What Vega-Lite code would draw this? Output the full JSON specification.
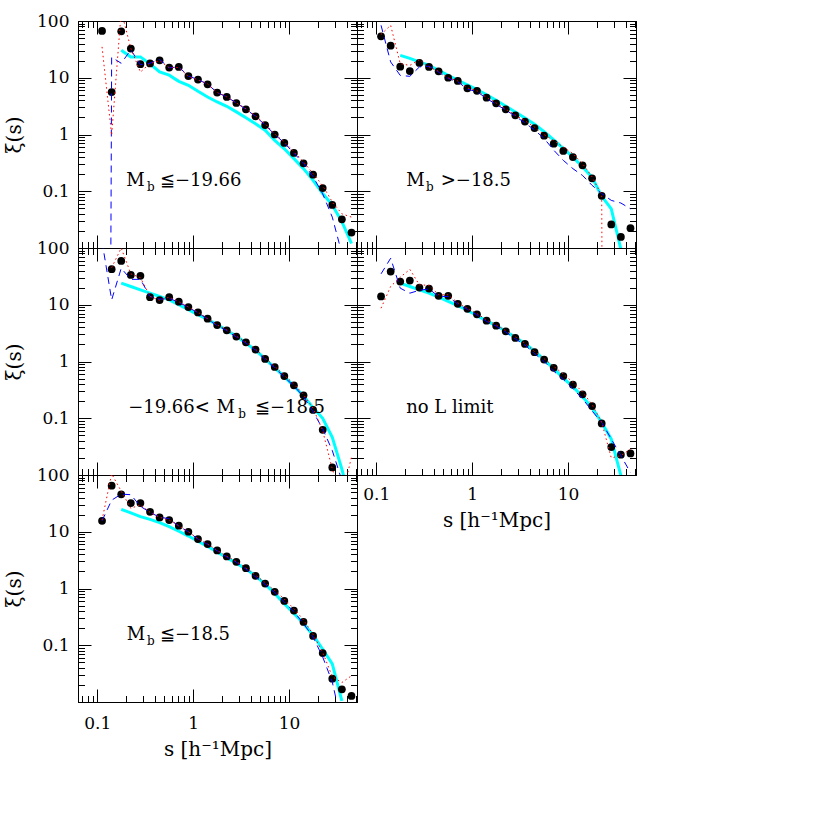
{
"$schema": "https://vega.github.io/schema/vega-lite/v6.json",
"background": "white",
"padding": {"left": 4, "top": 11, "right": 0, "bottom": 0},
"autosize": {"type": "pad"},
"datasets": {
"d": [
{"p":1,"s":0.1122,"pt":66.7,"r":35,"b":1e-40,"c":null},
{"p":1,"s":0.1413,"pt":5.6,"r":0.97,"b":23,"c":null},
{"p":1,"s":0.1778,"pt":65.8,"r":150,"b":18,"c":30.4},
{"p":1,"s":0.2239,"pt":32.6,"r":33,"b":31,"c":23.3},
{"p":1,"s":0.2818,"pt":17.3,"r":12.6,"b":17,"c":23.3},
{"p":1,"s":0.3548,"pt":17.9,"r":17.8,"b":18,"c":17.5},
{"p":1,"s":0.4467,"pt":20.3,"r":20,"b":21,"c":12.7},
{"p":1,"s":0.5623,"pt":15.1,"r":15,"b":15,"c":11.1},
{"p":1,"s":0.7079,"pt":15.5,"r":15.2,"b":15.5,"c":8.65},
{"p":1,"s":0.8913,"pt":10.7,"r":10.5,"b":10.7,"c":7.36},
{"p":1,"s":1.122,"pt":9.3,"r":9.2,"b":9.3,"c":5.77},
{"p":1,"s":1.413,"pt":7.66,"r":7.8,"b":7.7,"c":4.58},
{"p":1,"s":1.778,"pt":5.47,"r":5.5,"b":5.5,"c":3.74},
{"p":1,"s":2.239,"pt":4.59,"r":4.6,"b":4.6,"c":3.14},
{"p":1,"s":2.818,"pt":3.59,"r":3.6,"b":3.6,"c":2.5},
{"p":1,"s":3.548,"pt":2.78,"r":2.85,"b":2.78,"c":1.98},
{"p":1,"s":4.467,"pt":2.09,"r":2.12,"b":2.09,"c":1.55},
{"p":1,"s":5.623,"pt":1.47,"r":1.55,"b":1.47,"c":1.19},
{"p":1,"s":7.079,"pt":1.0,"r":1.02,"b":1.0,"c":0.79},
{"p":1,"s":8.913,"pt":0.71,"r":0.74,"b":0.71,"c":0.56},
{"p":1,"s":11.22,"pt":0.473,"r":0.5,"b":0.47,"c":0.376},
{"p":1,"s":14.13,"pt":0.311,"r":0.33,"b":0.31,"c":0.25},
{"p":1,"s":17.78,"pt":0.196,"r":0.205,"b":0.18,"c":0.156},
{"p":1,"s":22.39,"pt":0.114,"r":0.125,"b":0.09,"c":0.091},
{"p":1,"s":28.18,"pt":0.0574,"r":0.065,"b":0.035,"c":0.057},
{"p":1,"s":35.48,"pt":0.032,"r":0.04,"b":0.008,"c":0.029},
{"p":1,"s":44.67,"pt":0.0187,"r":0.035,"b":null,"c":0.012},
{"p":2,"s":0.1122,"pt":53.7,"r":58,"b":84,"c":null},
{"p":2,"s":0.1413,"pt":36.7,"r":84,"b":19,"c":null},
{"p":2,"s":0.1778,"pt":15.7,"r":17.7,"b":11,"c":24.8},
{"p":2,"s":0.2239,"pt":13.1,"r":16.5,"b":10.6,"c":22},
{"p":2,"s":0.2818,"pt":18.2,"r":20.8,"b":15.5,"c":19},
{"p":2,"s":0.3548,"pt":15.5,"r":15.5,"b":16,"c":16.5},
{"p":2,"s":0.4467,"pt":13,"r":13,"b":12.6,"c":13.5},
{"p":2,"s":0.5623,"pt":10,"r":10,"b":9.7,"c":11},
{"p":2,"s":0.7079,"pt":8.8,"r":8.8,"b":8.5,"c":9.0},
{"p":2,"s":0.8913,"pt":6.5,"r":6.6,"b":6.3,"c":7.5},
{"p":2,"s":1.122,"pt":5.9,"r":5.9,"b":5.7,"c":6.2},
{"p":2,"s":1.413,"pt":4.46,"r":4.5,"b":4.3,"c":5.0},
{"p":2,"s":1.778,"pt":3.55,"r":3.6,"b":3.4,"c":4.0},
{"p":2,"s":2.239,"pt":2.78,"r":2.8,"b":2.7,"c":3.15},
{"p":2,"s":2.818,"pt":2.18,"r":2.2,"b":2.1,"c":2.5},
{"p":2,"s":3.548,"pt":1.69,"r":1.75,"b":1.6,"c":1.95},
{"p":2,"s":4.467,"pt":1.3,"r":1.35,"b":1.2,"c":1.51},
{"p":2,"s":5.623,"pt":0.955,"r":1.0,"b":0.85,"c":1.12},
{"p":2,"s":7.079,"pt":0.69,"r":0.78,"b":0.53,"c":0.8},
{"p":2,"s":8.913,"pt":0.513,"r":0.6,"b":0.35,"c":0.57},
{"p":2,"s":11.22,"pt":0.40,"r":0.46,"b":0.25,"c":0.40},
{"p":2,"s":14.13,"pt":0.286,"r":0.307,"b":0.19,"c":0.27},
{"p":2,"s":17.78,"pt":0.169,"r":0.179,"b":0.127,"c":0.175},
{"p":2,"s":22.39,"pt":0.083,"r":0.085,"b":0.091,"c":0.082},
{"p":2,"s":28.18,"pt":0.026,"r":1e-40,"b":0.069,"c":0.049},
{"p":2,"s":35.48,"pt":0.0157,"r":null,"b":0.062,"c":0.0095},
{"p":2,"s":44.67,"pt":0.0223,"r":null,"b":0.049,"c":null},
{"p":3,"s":0.1122,"pt":null,"r":null,"b":130,"c":null},
{"p":3,"s":0.1413,"pt":42.3,"r":45,"b":12.2,"c":null},
{"p":3,"s":0.1778,"pt":59.2,"r":100,"b":44,"c":24},
{"p":3,"s":0.2239,"pt":33.6,"r":35,"b":28,"c":21},
{"p":3,"s":0.2818,"pt":32.3,"r":30,"b":28,"c":18.3},
{"p":3,"s":0.3548,"pt":13.6,"r":14,"b":14,"c":16},
{"p":3,"s":0.4467,"pt":12.1,"r":12,"b":12.5,"c":14},
{"p":3,"s":0.5623,"pt":13.6,"r":13.6,"b":13,"c":12.2},
{"p":3,"s":0.7079,"pt":11.3,"r":11.3,"b":11,"c":10},
{"p":3,"s":0.8913,"pt":9.1,"r":9.1,"b":9,"c":8.2},
{"p":3,"s":1.122,"pt":7.33,"r":7.4,"b":7.2,"c":6.7},
{"p":3,"s":1.413,"pt":5.68,"r":5.7,"b":5.6,"c":5.5},
{"p":3,"s":1.778,"pt":4.39,"r":4.4,"b":4.3,"c":4.46},
{"p":3,"s":2.239,"pt":3.55,"r":3.6,"b":3.5,"c":3.55},
{"p":3,"s":2.818,"pt":2.75,"r":2.8,"b":2.7,"c":2.78},
{"p":3,"s":3.548,"pt":2.18,"r":2.2,"b":2.1,"c":2.12},
{"p":3,"s":4.467,"pt":1.62,"r":1.65,"b":1.58,"c":1.58},
{"p":3,"s":5.623,"pt":1.11,"r":1.15,"b":1.08,"c":1.11},
{"p":3,"s":7.079,"pt":0.80,"r":0.82,"b":0.78,"c":0.77},
{"p":3,"s":8.913,"pt":0.553,"r":0.57,"b":0.53,"c":0.54},
{"p":3,"s":11.22,"pt":0.38,"r":0.4,"b":0.37,"c":0.369},
{"p":3,"s":14.13,"pt":0.254,"r":0.26,"b":0.24,"c":0.246},
{"p":3,"s":17.78,"pt":0.14,"r":0.15,"b":0.13,"c":0.154},
{"p":3,"s":22.39,"pt":0.0624,"r":0.06,"b":0.065,"c":0.1},
{"p":3,"s":28.18,"pt":0.0136,"r":0.0127,"b":0.027,"c":0.046},
{"p":3,"s":35.48,"pt":null,"r":0.004,"b":0.008,"c":0.0127},
{"p":3,"s":44.67,"pt":null,"r":0.0207,"b":null,"c":0.0027},
{"p":4,"s":0.1122,"pt":14,"r":8.7,"b":35,"c":null},
{"p":4,"s":0.1413,"pt":38.5,"r":21,"b":66,"c":null},
{"p":4,"s":0.1778,"pt":25.6,"r":30.5,"b":19.6,"c":24},
{"p":4,"s":0.2239,"pt":26.7,"r":42,"b":16,"c":21},
{"p":4,"s":0.2818,"pt":20.1,"r":22.4,"b":18,"c":18.3},
{"p":4,"s":0.3548,"pt":19.3,"r":22,"b":19,"c":16},
{"p":4,"s":0.4467,"pt":14.4,"r":15,"b":14,"c":13.6},
{"p":4,"s":0.5623,"pt":14.4,"r":15,"b":14,"c":11.5},
{"p":4,"s":0.7079,"pt":10.4,"r":10.8,"b":10.2,"c":9.6},
{"p":4,"s":0.8913,"pt":8.5,"r":8.7,"b":8.3,"c":8},
{"p":4,"s":1.122,"pt":6.77,"r":7,"b":6.6,"c":6.4},
{"p":4,"s":1.413,"pt":5.24,"r":5.4,"b":5.1,"c":5.2},
{"p":4,"s":1.778,"pt":4.28,"r":4.4,"b":4.2,"c":4.3},
{"p":4,"s":2.239,"pt":3.41,"r":3.5,"b":3.3,"c":3.4},
{"p":4,"s":2.818,"pt":2.6,"r":2.7,"b":2.5,"c":2.66},
{"p":4,"s":3.548,"pt":2.04,"r":2.1,"b":1.95,"c":2.07},
{"p":4,"s":4.467,"pt":1.46,"r":1.5,"b":1.38,"c":1.52},
{"p":4,"s":5.623,"pt":1.08,"r":1.12,"b":1.0,"c":1.08},
{"p":4,"s":7.079,"pt":0.774,"r":0.82,"b":0.676,"c":0.75},
{"p":4,"s":8.913,"pt":0.553,"r":0.6,"b":0.483,"c":0.51},
{"p":4,"s":11.22,"pt":0.39,"r":0.43,"b":0.331,"c":0.36},
{"p":4,"s":14.13,"pt":0.264,"r":0.29,"b":0.221,"c":0.24},
{"p":4,"s":17.78,"pt":0.164,"r":0.175,"b":0.134,"c":0.154},
{"p":4,"s":22.39,"pt":0.081,"r":0.085,"b":0.084,"c":0.084},
{"p":4,"s":28.18,"pt":0.031,"r":0.02,"b":0.043,"c":0.043},
{"p":4,"s":35.48,"pt":0.0228,"r":0.022,"b":0.022,"c":0.0098},
{"p":4,"s":44.67,"pt":0.024,"r":0.0286,"b":0.011,"c":null},
{"p":5,"s":0.1122,"pt":15.6,"r":16,"b":15.6,"c":null},
{"p":5,"s":0.1413,"pt":64.9,"r":105,"b":36,"c":null},
{"p":5,"s":0.1778,"pt":45.6,"r":52,"b":46,"c":24.8},
{"p":5,"s":0.2239,"pt":32,"r":25.8,"b":45,"c":21.5},
{"p":5,"s":0.2818,"pt":32,"r":30,"b":28,"c":18.5},
{"p":5,"s":0.3548,"pt":22.5,"r":22,"b":22,"c":16.5},
{"p":5,"s":0.4467,"pt":17.9,"r":18,"b":18,"c":14.5},
{"p":5,"s":0.5623,"pt":16.1,"r":16,"b":17,"c":12.3},
{"p":5,"s":0.7079,"pt":12.8,"r":12.8,"b":12.5,"c":10.2},
{"p":5,"s":0.8913,"pt":10,"r":10,"b":10,"c":8.4},
{"p":5,"s":1.122,"pt":7.42,"r":7.5,"b":7.4,"c":6.8},
{"p":5,"s":1.413,"pt":6.06,"r":6.1,"b":6,"c":5.5},
{"p":5,"s":1.778,"pt":4.69,"r":4.7,"b":4.6,"c":4.4},
{"p":5,"s":2.239,"pt":3.67,"r":3.7,"b":3.6,"c":3.5},
{"p":5,"s":2.818,"pt":2.96,"r":3.0,"b":2.9,"c":2.8},
{"p":5,"s":3.548,"pt":2.28,"r":2.3,"b":2.2,"c":2.2},
{"p":5,"s":4.467,"pt":1.67,"r":1.72,"b":1.6,"c":1.67},
{"p":5,"s":5.623,"pt":1.22,"r":1.27,"b":1.18,"c":1.19},
{"p":5,"s":7.079,"pt":0.873,"r":0.92,"b":0.85,"c":0.82},
{"p":5,"s":8.913,"pt":0.605,"r":0.65,"b":0.58,"c":0.54},
{"p":5,"s":11.22,"pt":0.409,"r":0.44,"b":0.39,"c":0.362},
{"p":5,"s":14.13,"pt":0.258,"r":0.28,"b":0.24,"c":0.241},
{"p":5,"s":17.78,"pt":0.146,"r":0.155,"b":0.14,"c":0.15},
{"p":5,"s":22.39,"pt":0.073,"r":0.075,"b":0.062,"c":0.085},
{"p":5,"s":28.18,"pt":0.0258,"r":0.028,"b":0.0225,"c":0.047},
{"p":5,"s":35.48,"pt":0.0167,"r":0.022,"b":0.004,"c":0.0105},
{"p":5,"s":44.67,"pt":0.0128,"r":0.029,"b":null,"c":null}
],
"t": [
{"p":1,"x":0.2,"y":0.125,"t":"M"},
{"p":1,"x":0.45,"y":0.125,"t":"≦−19.66"},
{"p":2,"x":0.205,"y":0.125,"t":"M"},
{"p":2,"x":0.47,"y":0.125,"t":">−18.5"},
{"p":3,"x":0.21,"y":0.125,"t":"−19.66<"},
{"p":3,"x":1.75,"y":0.125,"t":"M"},
{"p":3,"x":4.4,"y":0.125,"t":"≦−18.5"},
{"p":4,"x":0.205,"y":0.125,"t":"no L limit"},
{"p":5,"x":0.2024,"y":0.125,"t":"M"},
{"p":5,"x":0.45,"y":0.125,"t":"≦−18.5"}
],
"u": [
{"p":1,"x":0.33,"y":0.102,"t":"b"},
{"p":2,"x":0.33,"y":0.102,"t":"b"},
{"p":3,"x":2.95,"y":0.102,"t":"b"},
{"p":5,"x":0.33,"y":0.102,"t":"b"}
]
},
"spacing": 0,
"bounds": "flush",
"columns": 2,
"concat": [
{"width": 279, "height": 227, "resolve": {"axis": {"x": "independent", "y": "independent"}},
 "layer": [
  {"data": {"name": "d"}, "transform": [{"filter": "datum.p == 1"}], "mark": {"type": "line", "clip": true, "color": "#00ffff", "strokeWidth": 3},
   "encoding": {"x": {"field": "s", "type": "quantitative", "scale": {"type": "log", "domain": [0.063, 51], "nice": false}, "axis": null}, "y": {"field": "c", "type": "quantitative", "scale": {"type": "log", "domain": [0.01, 100], "nice": false}, "axis": null}}},
  {"data": {"name": "d"}, "transform": [{"filter": "datum.p == 1"}], "mark": {"type": "circle", "clip": true, "color": "black", "size": 60, "opacity": 1},
   "encoding": {"x": {"field": "s", "type": "quantitative", "scale": {"type": "log", "domain": [0.063, 51], "nice": false},
     "axis": {"orient": "bottom", "values": [0.07,0.08,0.09,0.1,0.2,0.3,0.4,0.5,0.6,0.7,0.8,0.9,1,2,3,4,5,6,7,8,9,10,20,30,40,50], "tickSize": {"condition": {"test": "abs(log(datum.value)/LN10 - round(log(datum.value)/LN10)) < 0.001", "value": -13}, "value": -6.5}, "labels": false, "title": null}},
    "y": {"field": "pt", "type": "quantitative", "scale": {"type": "log", "domain": [0.01, 100], "nice": false},
     "axis": {"orient": "left", "values": [0.01,0.02,0.03,0.04,0.05,0.06,0.07,0.08,0.09,0.1,0.2,0.3,0.4,0.5,0.6,0.7,0.8,0.9,1,2,3,4,5,6,7,8,9,10,20,30,40,50,60,70,80,90,100], "tickSize": {"condition": {"test": "abs(log(datum.value)/LN10 - round(log(datum.value)/LN10)) < 0.001", "value": -13}, "value": -6.5}, "labelExpr": "datum.value == 100 ? '100' : datum.value == 10 ? '10' : datum.value == 1 ? '1' : datum.value == 0.1 ? '0.1' : ''", "labelPadding": 22, "title": "ξ(s)", "titlePadding": 12}}}},
  {"data": {"name": "d"}, "transform": [{"filter": "datum.p == 1"}], "mark": {"type": "line", "clip": true, "color": "#0000ff", "strokeWidth": 1, "strokeDash": [7, 5]},
   "encoding": {"x": {"field": "s", "type": "quantitative", "scale": {"type": "log", "domain": [0.063, 51], "nice": false}, "axis": null}, "y": {"field": "b", "type": "quantitative", "scale": {"type": "log", "domain": [0.01, 100], "nice": false}, "axis": null}}},
  {"data": {"name": "d"}, "transform": [{"filter": "datum.p == 1"}], "mark": {"type": "line", "clip": true, "color": "#ff0000", "strokeWidth": 1, "strokeDash": [1.5, 3]},
   "encoding": {"x": {"field": "s", "type": "quantitative", "scale": {"type": "log", "domain": [0.063, 51], "nice": false},
     "axis": {"orient": "top", "values": [0.07,0.08,0.09,0.1,0.2,0.3,0.4,0.5,0.6,0.7,0.8,0.9,1,2,3,4,5,6,7,8,9,10,20,30,40,50], "tickSize": {"condition": {"test": "abs(log(datum.value)/LN10 - round(log(datum.value)/LN10)) < 0.001", "value": -13}, "value": -6.5}, "labels": false, "title": null}},
    "y": {"field": "r", "type": "quantitative", "scale": {"type": "log", "domain": [0.01, 100], "nice": false},
     "axis": {"orient": "right", "values": [0.01,0.02,0.03,0.04,0.05,0.06,0.07,0.08,0.09,0.1,0.2,0.3,0.4,0.5,0.6,0.7,0.8,0.9,1,2,3,4,5,6,7,8,9,10,20,30,40,50,60,70,80,90,100], "tickSize": {"condition": {"test": "abs(log(datum.value)/LN10 - round(log(datum.value)/LN10)) < 0.001", "value": -13}, "value": -6.5}, "labels": false, "title": null}}}},
  {"data": {"name": "t"}, "transform": [{"filter": "datum.p == 1"}], "mark": {"type": "text", "align": "left", "baseline": "alphabetic", "fontSize": 18, "font": "DejaVu Serif", "color": "black"},
   "encoding": {"x": {"field": "x", "type": "quantitative", "scale": {"type": "log", "domain": [0.063, 51], "nice": false}, "axis": null}, "y": {"field": "y", "type": "quantitative", "scale": {"type": "log", "domain": [0.01, 100], "nice": false}, "axis": null}, "text": {"field": "t"}}},
  {"data": {"name": "u"}, "transform": [{"filter": "datum.p == 1"}], "mark": {"type": "text", "align": "left", "baseline": "alphabetic", "fontSize": 12, "font": "DejaVu Serif", "color": "black"},
   "encoding": {"x": {"field": "x", "type": "quantitative", "scale": {"type": "log", "domain": [0.063, 51], "nice": false}, "axis": null}, "y": {"field": "y", "type": "quantitative", "scale": {"type": "log", "domain": [0.01, 100], "nice": false}, "axis": null}, "text": {"field": "t"}}}
 ]},
{"width": 279, "height": 227, "resolve": {"axis": {"x": "independent", "y": "independent"}},
 "layer": [
  {"data": {"name": "d"}, "transform": [{"filter": "datum.p == 2"}], "mark": {"type": "line", "clip": true, "color": "#00ffff", "strokeWidth": 3},
   "encoding": {"x": {"field": "s", "type": "quantitative", "scale": {"type": "log", "domain": [0.063, 51], "nice": false}, "axis": null}, "y": {"field": "c", "type": "quantitative", "scale": {"type": "log", "domain": [0.01, 100], "nice": false}, "axis": null}}},
  {"data": {"name": "d"}, "transform": [{"filter": "datum.p == 2"}], "mark": {"type": "circle", "clip": true, "color": "black", "size": 60, "opacity": 1},
   "encoding": {"x": {"field": "s", "type": "quantitative", "scale": {"type": "log", "domain": [0.063, 51], "nice": false},
     "axis": {"orient": "bottom", "values": [0.07,0.08,0.09,0.1,0.2,0.3,0.4,0.5,0.6,0.7,0.8,0.9,1,2,3,4,5,6,7,8,9,10,20,30,40,50], "tickSize": {"condition": {"test": "abs(log(datum.value)/LN10 - round(log(datum.value)/LN10)) < 0.001", "value": -13}, "value": -6.5}, "labels": false, "title": null}},
    "y": {"field": "pt", "type": "quantitative", "scale": {"type": "log", "domain": [0.01, 100], "nice": false},
     "axis": {"orient": "left", "values": [0.01,0.02,0.03,0.04,0.05,0.06,0.07,0.08,0.09,0.1,0.2,0.3,0.4,0.5,0.6,0.7,0.8,0.9,1,2,3,4,5,6,7,8,9,10,20,30,40,50,60,70,80,90,100], "tickSize": {"condition": {"test": "abs(log(datum.value)/LN10 - round(log(datum.value)/LN10)) < 0.001", "value": -13}, "value": -6.5}, "labels": false, "title": null}}}},
  {"data": {"name": "d"}, "transform": [{"filter": "datum.p == 2"}], "mark": {"type": "line", "clip": true, "color": "#0000ff", "strokeWidth": 1, "strokeDash": [7, 5]},
   "encoding": {"x": {"field": "s", "type": "quantitative", "scale": {"type": "log", "domain": [0.063, 51], "nice": false}, "axis": null}, "y": {"field": "b", "type": "quantitative", "scale": {"type": "log", "domain": [0.01, 100], "nice": false}, "axis": null}}},
  {"data": {"name": "d"}, "transform": [{"filter": "datum.p == 2"}], "mark": {"type": "line", "clip": true, "color": "#ff0000", "strokeWidth": 1, "strokeDash": [1.5, 3]},
   "encoding": {"x": {"field": "s", "type": "quantitative", "scale": {"type": "log", "domain": [0.063, 51], "nice": false},
     "axis": {"orient": "top", "values": [0.07,0.08,0.09,0.1,0.2,0.3,0.4,0.5,0.6,0.7,0.8,0.9,1,2,3,4,5,6,7,8,9,10,20,30,40,50], "tickSize": {"condition": {"test": "abs(log(datum.value)/LN10 - round(log(datum.value)/LN10)) < 0.001", "value": -13}, "value": -6.5}, "labels": false, "title": null}},
    "y": {"field": "r", "type": "quantitative", "scale": {"type": "log", "domain": [0.01, 100], "nice": false},
     "axis": {"orient": "right", "values": [0.01,0.02,0.03,0.04,0.05,0.06,0.07,0.08,0.09,0.1,0.2,0.3,0.4,0.5,0.6,0.7,0.8,0.9,1,2,3,4,5,6,7,8,9,10,20,30,40,50,60,70,80,90,100], "tickSize": {"condition": {"test": "abs(log(datum.value)/LN10 - round(log(datum.value)/LN10)) < 0.001", "value": -13}, "value": -6.5}, "labels": false, "title": null}}}},
  {"data": {"name": "t"}, "transform": [{"filter": "datum.p == 2"}], "mark": {"type": "text", "align": "left", "baseline": "alphabetic", "fontSize": 18, "font": "DejaVu Serif", "color": "black"},
   "encoding": {"x": {"field": "x", "type": "quantitative", "scale": {"type": "log", "domain": [0.063, 51], "nice": false}, "axis": null}, "y": {"field": "y", "type": "quantitative", "scale": {"type": "log", "domain": [0.01, 100], "nice": false}, "axis": null}, "text": {"field": "t"}}},
  {"data": {"name": "u"}, "transform": [{"filter": "datum.p == 2"}], "mark": {"type": "text", "align": "left", "baseline": "alphabetic", "fontSize": 12, "font": "DejaVu Serif", "color": "black"},
   "encoding": {"x": {"field": "x", "type": "quantitative", "scale": {"type": "log", "domain": [0.063, 51], "nice": false}, "axis": null}, "y": {"field": "y", "type": "quantitative", "scale": {"type": "log", "domain": [0.01, 100], "nice": false}, "axis": null}, "text": {"field": "t"}}}
 ]},
{"width": 279, "height": 227, "resolve": {"axis": {"x": "independent", "y": "independent"}},
 "layer": [
  {"data": {"name": "d"}, "transform": [{"filter": "datum.p == 3"}], "mark": {"type": "line", "clip": true, "color": "#00ffff", "strokeWidth": 3},
   "encoding": {"x": {"field": "s", "type": "quantitative", "scale": {"type": "log", "domain": [0.063, 51], "nice": false}, "axis": null}, "y": {"field": "c", "type": "quantitative", "scale": {"type": "log", "domain": [0.01, 100], "nice": false}, "axis": null}}},
  {"data": {"name": "d"}, "transform": [{"filter": "datum.p == 3"}], "mark": {"type": "circle", "clip": true, "color": "black", "size": 60, "opacity": 1},
   "encoding": {"x": {"field": "s", "type": "quantitative", "scale": {"type": "log", "domain": [0.063, 51], "nice": false},
     "axis": {"orient": "bottom", "values": [0.07,0.08,0.09,0.1,0.2,0.3,0.4,0.5,0.6,0.7,0.8,0.9,1,2,3,4,5,6,7,8,9,10,20,30,40,50], "tickSize": {"condition": {"test": "abs(log(datum.value)/LN10 - round(log(datum.value)/LN10)) < 0.001", "value": -13}, "value": -6.5}, "labels": false, "title": null}},
    "y": {"field": "pt", "type": "quantitative", "scale": {"type": "log", "domain": [0.01, 100], "nice": false},
     "axis": {"orient": "left", "values": [0.01,0.02,0.03,0.04,0.05,0.06,0.07,0.08,0.09,0.1,0.2,0.3,0.4,0.5,0.6,0.7,0.8,0.9,1,2,3,4,5,6,7,8,9,10,20,30,40,50,60,70,80,90,100], "tickSize": {"condition": {"test": "abs(log(datum.value)/LN10 - round(log(datum.value)/LN10)) < 0.001", "value": -13}, "value": -6.5}, "labelExpr": "datum.value == 100 ? '100' : datum.value == 10 ? '10' : datum.value == 1 ? '1' : datum.value == 0.1 ? '0.1' : ''", "labelPadding": 22, "title": "ξ(s)", "titlePadding": 12}}}},
  {"data": {"name": "d"}, "transform": [{"filter": "datum.p == 3"}], "mark": {"type": "line", "clip": true, "color": "#0000ff", "strokeWidth": 1, "strokeDash": [7, 5]},
   "encoding": {"x": {"field": "s", "type": "quantitative", "scale": {"type": "log", "domain": [0.063, 51], "nice": false}, "axis": null}, "y": {"field": "b", "type": "quantitative", "scale": {"type": "log", "domain": [0.01, 100], "nice": false}, "axis": null}}},
  {"data": {"name": "d"}, "transform": [{"filter": "datum.p == 3"}], "mark": {"type": "line", "clip": true, "color": "#ff0000", "strokeWidth": 1, "strokeDash": [1.5, 3]},
   "encoding": {"x": {"field": "s", "type": "quantitative", "scale": {"type": "log", "domain": [0.063, 51], "nice": false},
     "axis": {"orient": "top", "values": [0.07,0.08,0.09,0.1,0.2,0.3,0.4,0.5,0.6,0.7,0.8,0.9,1,2,3,4,5,6,7,8,9,10,20,30,40,50], "tickSize": {"condition": {"test": "abs(log(datum.value)/LN10 - round(log(datum.value)/LN10)) < 0.001", "value": -13}, "value": -6.5}, "labels": false, "title": null}},
    "y": {"field": "r", "type": "quantitative", "scale": {"type": "log", "domain": [0.01, 100], "nice": false},
     "axis": {"orient": "right", "values": [0.01,0.02,0.03,0.04,0.05,0.06,0.07,0.08,0.09,0.1,0.2,0.3,0.4,0.5,0.6,0.7,0.8,0.9,1,2,3,4,5,6,7,8,9,10,20,30,40,50,60,70,80,90,100], "tickSize": {"condition": {"test": "abs(log(datum.value)/LN10 - round(log(datum.value)/LN10)) < 0.001", "value": -13}, "value": -6.5}, "labels": false, "title": null}}}},
  {"data": {"name": "t"}, "transform": [{"filter": "datum.p == 3"}], "mark": {"type": "text", "align": "left", "baseline": "alphabetic", "fontSize": 18, "font": "DejaVu Serif", "color": "black"},
   "encoding": {"x": {"field": "x", "type": "quantitative", "scale": {"type": "log", "domain": [0.063, 51], "nice": false}, "axis": null}, "y": {"field": "y", "type": "quantitative", "scale": {"type": "log", "domain": [0.01, 100], "nice": false}, "axis": null}, "text": {"field": "t"}}},
  {"data": {"name": "u"}, "transform": [{"filter": "datum.p == 3"}], "mark": {"type": "text", "align": "left", "baseline": "alphabetic", "fontSize": 12, "font": "DejaVu Serif", "color": "black"},
   "encoding": {"x": {"field": "x", "type": "quantitative", "scale": {"type": "log", "domain": [0.063, 51], "nice": false}, "axis": null}, "y": {"field": "y", "type": "quantitative", "scale": {"type": "log", "domain": [0.01, 100], "nice": false}, "axis": null}, "text": {"field": "t"}}}
 ]},
{"width": 279, "height": 227, "resolve": {"axis": {"x": "independent", "y": "independent"}},
 "layer": [
  {"data": {"name": "d"}, "transform": [{"filter": "datum.p == 4"}], "mark": {"type": "line", "clip": true, "color": "#00ffff", "strokeWidth": 3},
   "encoding": {"x": {"field": "s", "type": "quantitative", "scale": {"type": "log", "domain": [0.063, 51], "nice": false}, "axis": null}, "y": {"field": "c", "type": "quantitative", "scale": {"type": "log", "domain": [0.01, 100], "nice": false}, "axis": null}}},
  {"data": {"name": "d"}, "transform": [{"filter": "datum.p == 4"}], "mark": {"type": "circle", "clip": true, "color": "black", "size": 60, "opacity": 1},
   "encoding": {"x": {"field": "s", "type": "quantitative", "scale": {"type": "log", "domain": [0.063, 51], "nice": false},
     "axis": {"orient": "bottom", "values": [0.07,0.08,0.09,0.1,0.2,0.3,0.4,0.5,0.6,0.7,0.8,0.9,1,2,3,4,5,6,7,8,9,10,20,30,40,50], "tickSize": {"condition": {"test": "abs(log(datum.value)/LN10 - round(log(datum.value)/LN10)) < 0.001", "value": -13}, "value": -6.5}, "labelExpr": "datum.value == 0.1 ? '0.1' : datum.value == 1 ? '1' : datum.value == 10 ? '10' : ''", "labelPadding": 24, "title": "s [h⁻¹Mpc]", "titlePadding": 2}},
    "y": {"field": "pt", "type": "quantitative", "scale": {"type": "log", "domain": [0.01, 100], "nice": false},
     "axis": {"orient": "left", "values": [0.01,0.02,0.03,0.04,0.05,0.06,0.07,0.08,0.09,0.1,0.2,0.3,0.4,0.5,0.6,0.7,0.8,0.9,1,2,3,4,5,6,7,8,9,10,20,30,40,50,60,70,80,90,100], "tickSize": {"condition": {"test": "abs(log(datum.value)/LN10 - round(log(datum.value)/LN10)) < 0.001", "value": -13}, "value": -6.5}, "labels": false, "title": null}}}},
  {"data": {"name": "d"}, "transform": [{"filter": "datum.p == 4"}], "mark": {"type": "line", "clip": true, "color": "#0000ff", "strokeWidth": 1, "strokeDash": [7, 5]},
   "encoding": {"x": {"field": "s", "type": "quantitative", "scale": {"type": "log", "domain": [0.063, 51], "nice": false}, "axis": null}, "y": {"field": "b", "type": "quantitative", "scale": {"type": "log", "domain": [0.01, 100], "nice": false}, "axis": null}}},
  {"data": {"name": "d"}, "transform": [{"filter": "datum.p == 4"}], "mark": {"type": "line", "clip": true, "color": "#ff0000", "strokeWidth": 1, "strokeDash": [1.5, 3]},
   "encoding": {"x": {"field": "s", "type": "quantitative", "scale": {"type": "log", "domain": [0.063, 51], "nice": false},
     "axis": {"orient": "top", "values": [0.07,0.08,0.09,0.1,0.2,0.3,0.4,0.5,0.6,0.7,0.8,0.9,1,2,3,4,5,6,7,8,9,10,20,30,40,50], "tickSize": {"condition": {"test": "abs(log(datum.value)/LN10 - round(log(datum.value)/LN10)) < 0.001", "value": -13}, "value": -6.5}, "labels": false, "title": null}},
    "y": {"field": "r", "type": "quantitative", "scale": {"type": "log", "domain": [0.01, 100], "nice": false},
     "axis": {"orient": "right", "values": [0.01,0.02,0.03,0.04,0.05,0.06,0.07,0.08,0.09,0.1,0.2,0.3,0.4,0.5,0.6,0.7,0.8,0.9,1,2,3,4,5,6,7,8,9,10,20,30,40,50,60,70,80,90,100], "tickSize": {"condition": {"test": "abs(log(datum.value)/LN10 - round(log(datum.value)/LN10)) < 0.001", "value": -13}, "value": -6.5}, "labels": false, "title": null}}}},
  {"data": {"name": "t"}, "transform": [{"filter": "datum.p == 4"}], "mark": {"type": "text", "align": "left", "baseline": "alphabetic", "fontSize": 18, "font": "DejaVu Serif", "color": "black"},
   "encoding": {"x": {"field": "x", "type": "quantitative", "scale": {"type": "log", "domain": [0.063, 51], "nice": false}, "axis": null}, "y": {"field": "y", "type": "quantitative", "scale": {"type": "log", "domain": [0.01, 100], "nice": false}, "axis": null}, "text": {"field": "t"}}}
 ]},
{"width": 279, "height": 227, "resolve": {"axis": {"x": "independent", "y": "independent"}},
 "layer": [
  {"data": {"name": "d"}, "transform": [{"filter": "datum.p == 5"}], "mark": {"type": "line", "clip": true, "color": "#00ffff", "strokeWidth": 3},
   "encoding": {"x": {"field": "s", "type": "quantitative", "scale": {"type": "log", "domain": [0.063, 51], "nice": false}, "axis": null}, "y": {"field": "c", "type": "quantitative", "scale": {"type": "log", "domain": [0.01, 100], "nice": false}, "axis": null}}},
  {"data": {"name": "d"}, "transform": [{"filter": "datum.p == 5"}], "mark": {"type": "circle", "clip": true, "color": "black", "size": 60, "opacity": 1},
   "encoding": {"x": {"field": "s", "type": "quantitative", "scale": {"type": "log", "domain": [0.063, 51], "nice": false},
     "axis": {"orient": "bottom", "values": [0.07,0.08,0.09,0.1,0.2,0.3,0.4,0.5,0.6,0.7,0.8,0.9,1,2,3,4,5,6,7,8,9,10,20,30,40,50], "tickSize": {"condition": {"test": "abs(log(datum.value)/LN10 - round(log(datum.value)/LN10)) < 0.001", "value": -13}, "value": -6.5}, "labelExpr": "datum.value == 0.1 ? '0.1' : datum.value == 1 ? '1' : datum.value == 10 ? '10' : ''", "labelPadding": 26, "title": "s [h⁻¹Mpc]", "titlePadding": 2}},
    "y": {"field": "pt", "type": "quantitative", "scale": {"type": "log", "domain": [0.01, 100], "nice": false},
     "axis": {"orient": "left", "values": [0.01,0.02,0.03,0.04,0.05,0.06,0.07,0.08,0.09,0.1,0.2,0.3,0.4,0.5,0.6,0.7,0.8,0.9,1,2,3,4,5,6,7,8,9,10,20,30,40,50,60,70,80,90,100], "tickSize": {"condition": {"test": "abs(log(datum.value)/LN10 - round(log(datum.value)/LN10)) < 0.001", "value": -13}, "value": -6.5}, "labelExpr": "datum.value == 100 ? '100' : datum.value == 10 ? '10' : datum.value == 1 ? '1' : datum.value == 0.1 ? '0.1' : ''", "labelPadding": 22, "title": "ξ(s)", "titlePadding": 12}}}},
  {"data": {"name": "d"}, "transform": [{"filter": "datum.p == 5"}], "mark": {"type": "line", "clip": true, "color": "#0000ff", "strokeWidth": 1, "strokeDash": [7, 5]},
   "encoding": {"x": {"field": "s", "type": "quantitative", "scale": {"type": "log", "domain": [0.063, 51], "nice": false}, "axis": null}, "y": {"field": "b", "type": "quantitative", "scale": {"type": "log", "domain": [0.01, 100], "nice": false}, "axis": null}}},
  {"data": {"name": "d"}, "transform": [{"filter": "datum.p == 5"}], "mark": {"type": "line", "clip": true, "color": "#ff0000", "strokeWidth": 1, "strokeDash": [1.5, 3]},
   "encoding": {"x": {"field": "s", "type": "quantitative", "scale": {"type": "log", "domain": [0.063, 51], "nice": false},
     "axis": {"orient": "top", "values": [0.07,0.08,0.09,0.1,0.2,0.3,0.4,0.5,0.6,0.7,0.8,0.9,1,2,3,4,5,6,7,8,9,10,20,30,40,50], "tickSize": {"condition": {"test": "abs(log(datum.value)/LN10 - round(log(datum.value)/LN10)) < 0.001", "value": -13}, "value": -6.5}, "labels": false, "title": null}},
    "y": {"field": "r", "type": "quantitative", "scale": {"type": "log", "domain": [0.01, 100], "nice": false},
     "axis": {"orient": "right", "values": [0.01,0.02,0.03,0.04,0.05,0.06,0.07,0.08,0.09,0.1,0.2,0.3,0.4,0.5,0.6,0.7,0.8,0.9,1,2,3,4,5,6,7,8,9,10,20,30,40,50,60,70,80,90,100], "tickSize": {"condition": {"test": "abs(log(datum.value)/LN10 - round(log(datum.value)/LN10)) < 0.001", "value": -13}, "value": -6.5}, "labels": false, "title": null}}}},
  {"data": {"name": "t"}, "transform": [{"filter": "datum.p == 5"}], "mark": {"type": "text", "align": "left", "baseline": "alphabetic", "fontSize": 18, "font": "DejaVu Serif", "color": "black"},
   "encoding": {"x": {"field": "x", "type": "quantitative", "scale": {"type": "log", "domain": [0.063, 51], "nice": false}, "axis": null}, "y": {"field": "y", "type": "quantitative", "scale": {"type": "log", "domain": [0.01, 100], "nice": false}, "axis": null}, "text": {"field": "t"}}},
  {"data": {"name": "u"}, "transform": [{"filter": "datum.p == 5"}], "mark": {"type": "text", "align": "left", "baseline": "alphabetic", "fontSize": 12, "font": "DejaVu Serif", "color": "black"},
   "encoding": {"x": {"field": "x", "type": "quantitative", "scale": {"type": "log", "domain": [0.063, 51], "nice": false}, "axis": null}, "y": {"field": "y", "type": "quantitative", "scale": {"type": "log", "domain": [0.01, 100], "nice": false}, "axis": null}, "text": {"field": "t"}}}
 ]}
],
"config": {
 "view": {"stroke": "black", "strokeWidth": 1},
 "font": "DejaVu Serif",
 "axis": {"grid": false, "domainColor": "black", "domainWidth": 1, "tickColor": "black", "tickWidth": 1, "labelColor": "black", "titleColor": "black", "labelFont": "DejaVu Serif", "titleFont": "DejaVu Serif", "labelFontSize": 17, "titleFontSize": 20, "titleFontWeight": "normal", "labelOverlap": false, "labelFlush": false, "labelBound": false}
}
}
